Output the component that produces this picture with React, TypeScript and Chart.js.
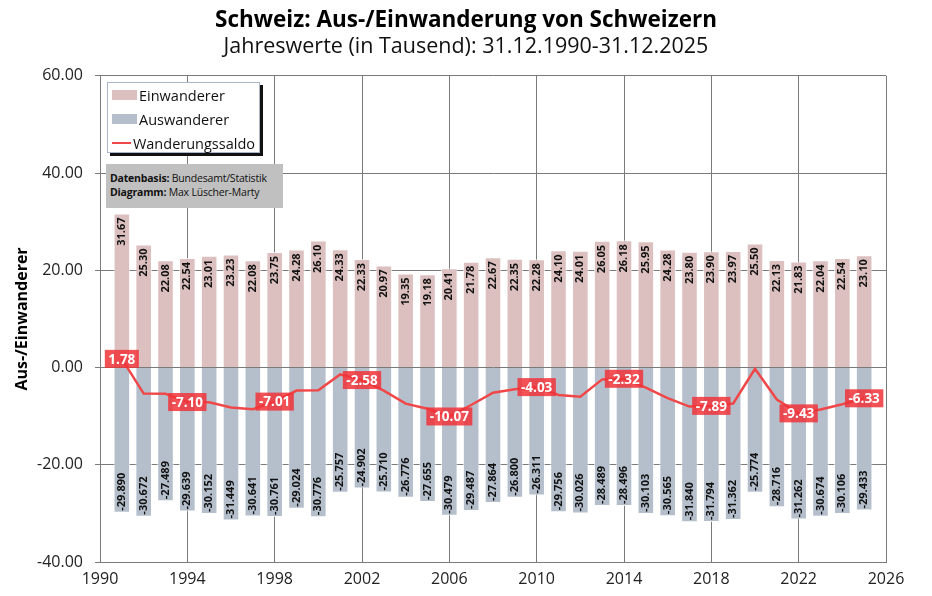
import React, { useEffect, useRef } from "react";
import { Chart, registerables } from "chart.js";

Chart.register(...registerables);

const years = [
  1991, 1992, 1993, 1994, 1995, 1996, 1997, 1998, 1999, 2000,
  2001, 2002, 2003, 2004, 2005, 2006, 2007, 2008, 2009, 2010,
  2011, 2012, 2013, 2014, 2015, 2016, 2017, 2018, 2019, 2020,
  2021, 2022, 2023, 2024, 2025,
];

const einwanderer = [
  31.67, 25.3, 22.08, 22.54, 23.01, 23.23, 22.08, 23.75, 24.28, 26.1,
  24.33, 22.33, 20.97, 19.35, 19.18, 20.41, 21.78, 22.67, 22.35, 22.28,
  24.1, 24.01, 26.05, 26.18, 25.95, 24.28, 23.8, 23.9, 23.97, 25.5,
  22.13, 21.83, 22.04, 22.54, 23.1,
];

const auswanderer = [
  -29.89, -30.672, -27.489, -29.639, -30.152, -31.449, -30.641, -30.761, -29.024, -30.776,
  -25.757, -24.902, -25.71, -26.776, -27.655, -30.479, -29.487, -27.864, -26.8, -26.311,
  -29.756, -30.026, -28.489, -28.496, -30.103, -30.565, -31.84, -31.794, -31.362, -25.774,
  -28.716, -31.262, -30.674, -30.106, -29.433,
];

const saldo = [
  1.78, -5.37, -5.41, -7.1, -7.14, -8.22, -8.56, -7.01, -4.74, -4.68,
  -1.43, -2.58, -4.74, -7.43, -8.48, -10.07, -7.71, -5.19, -4.45, -4.03,
  -5.66, -6.02, -2.44, -2.32, -4.15, -6.29, -8.04, -7.89, -7.39, -0.27,
  -6.59, -9.43, -8.63, -7.57, -6.33,
];

const saldoLabelYears = [1991, 1994, 1998, 2002, 2006, 2010, 2014, 2018, 2022, 2025];

const FONT = "'Open Sans', 'Noto Sans', sans-serif";
const GRID = "#7a7a7a";
const PINK = "#dcc0c0";
const BLUEGRAY = "#b5bfcc";
const RED = "#f04848";

// bar values inside the bars + red boxes on the saldo line
const labelPlugin = {
  id: "valueLabels",
  afterDraw(chart) {
    const ctx = chart.ctx;
    ctx.save();
    ctx.font = `bold 11px ${FONT}`;
    ctx.fillStyle = "#111";
    ctx.textBaseline = "middle";

    chart.getDatasetMeta(0).data.forEach((el, i) => {
      ctx.save();
      ctx.translate(el.x, el.y + 4);
      ctx.rotate(-Math.PI / 2);
      ctx.textAlign = "right";
      ctx.fillText(einwanderer[i].toFixed(2), 0, 0);
      ctx.restore();
    });

    chart.getDatasetMeta(1).data.forEach((el, i) => {
      ctx.save();
      ctx.translate(el.x, el.y - 2);
      ctx.rotate(-Math.PI / 2);
      ctx.textAlign = "left";
      ctx.fillText(auswanderer[i].toFixed(3), 0, 0);
      ctx.restore();
    });

    ctx.font = `bold 13.5px ${FONT}`;
    ctx.textAlign = "center";
    chart.getDatasetMeta(2).data.forEach((el, i) => {
      if (!saldoLabelYears.includes(years[i])) return;
      const txt = saldo[i].toFixed(2);
      const w = ctx.measureText(txt).width + 7;
      const h = 18;
      ctx.fillStyle = "rgba(240, 50, 56, 0.85)";
      ctx.fillRect(el.x - w / 2, el.y - h / 2, w, h);
      ctx.fillStyle = "#fff";
      ctx.fillText(txt, el.x, el.y + 1);
    });
    ctx.restore();
  },
};

export default function App() {
  const canvasRef = useRef<HTMLCanvasElement>(null);

  useEffect(() => {
    document.body.style.margin = "0";
    if (!canvasRef.current) return;

    const chart = new Chart(canvasRef.current, {
      type: "bar",
      data: {
        datasets: [
          {
            label: "Einwanderer",
            data: years.map((x, i) => ({ x, y: einwanderer[i] })),
            backgroundColor: PINK,
            borderColor: "rgba(255,255,255,0.7)",
            borderWidth: 1,
            barPercentage: 0.76,
            categoryPercentage: 1,
            stack: "bars",
            order: 1,
          },
          {
            label: "Auswanderer",
            data: years.map((x, i) => ({ x, y: auswanderer[i] })),
            backgroundColor: BLUEGRAY,
            borderColor: "rgba(255,255,255,0.7)",
            borderWidth: 1,
            barPercentage: 0.76,
            categoryPercentage: 1,
            stack: "bars",
            order: 1,
          },
          {
            type: "line",
            label: "Wanderungssaldo",
            data: years.map((x, i) => ({ x, y: saldo[i] })),
            borderColor: RED,
            borderWidth: 2.5,
            pointRadius: 0,
            tension: 0,
            stack: "saldo",
            order: 0,
          },
        ] as any,
      },
      options: {
        animation: false,
        responsive: true,
        maintainAspectRatio: false,
        layout: { padding: 0 },
        plugins: {
          legend: { display: false },
          tooltip: { enabled: false },
          title: {
            display: true,
            text: "Schweiz: Aus-/Einwanderung von Schweizern",
            color: "#000",
            font: { family: FONT, size: 22.5, weight: "bold", lineHeight: 1.2 },
            padding: { top: 7, bottom: 0 },
          },
          subtitle: {
            display: true,
            text: "Jahreswerte (in Tausend): 31.12.1990-31.12.2025",
            color: "#111",
            font: { family: FONT, size: 21.5, lineHeight: 1.2 },
            padding: { top: 0, bottom: 16 },
          },
        },
        scales: {
          x: {
            type: "linear",
            min: 1990,
            max: 2026,
            stacked: true,
            offset: false,
            z: 1,
            grid: { color: GRID, offset: false, drawTicks: false },
            border: { color: GRID },
            ticks: {
              stepSize: 4,
              padding: 8,
              color: "#222",
              font: { family: FONT, size: 16 },
              callback: (v) => String(v),
            },
            afterFit: (scale) => {
              scale.height = 34;
            },
          },
          y: {
            min: -40,
            max: 60,
            stacked: true,
            z: 1,
            grid: { color: GRID, tickLength: 5 },
            border: { color: GRID },
            ticks: {
              stepSize: 20,
              padding: 12,
              color: "#222",
              font: { family: FONT, size: 16 },
              callback: (v) => Number(v).toFixed(2),
            },
            title: {
              display: true,
              text: "Aus-/Einwanderer",
              color: "#000",
              font: { family: FONT, size: 16, weight: "bold" },
              padding: { top: 13, bottom: 0 },
            },
            afterFit: (scale) => {
              scale.width = 100;
            },
          },
          // empty right-hand axis, only to keep the plot's right edge at the reference position
          spacer: {
            type: "linear",
            position: "right",
            min: -40,
            max: 60,
            grid: { display: false },
            border: { display: false },
            ticks: { display: false },
            afterFit: (scale) => {
              scale.width = 46;
            },
          },
        },
      } as any,
      plugins: [labelPlugin],
    });

    return () => chart.destroy();
  }, []);

  const item = { display: "flex", alignItems: "center", height: 24 } as const;

  return (
    <div style={{ position: "relative", width: 932, height: 596, fontFamily: FONT }}>
      <canvas ref={canvasRef}></canvas>
      <div
        style={{
          position: "absolute",
          left: 107,
          top: 82,
          width: 153,
          height: 71,
          background: "#fff",
          border: "1px solid #a9b6cc",
          boxShadow: "3px 3px 0 #111",
          padding: "0 4px",
          boxSizing: "border-box",
          fontSize: 14.5,
          color: "#111",
        }}
      >
        <div style={item}>
          <span style={{ width: 25, height: 10, background: PINK, marginRight: 2 }} />
          Einwanderer
        </div>
        <div style={item}>
          <span style={{ width: 25, height: 10, background: BLUEGRAY, marginRight: 2 }} />
          Auswanderer
        </div>
        <div style={item}>
          <span style={{ width: 25, height: 2.5, background: RED, marginRight: 2 }} />
          Wanderungssaldo
        </div>
      </div>
      <div
        style={{
          position: "absolute",
          left: 106,
          top: 164,
          width: 177,
          height: 44,
          background: "#c0c0c0",
          padding: "7px 4px",
          boxSizing: "border-box",
          fontSize: 10.5,
          lineHeight: "14px",
          color: "#111",
          whiteSpace: "nowrap",
          letterSpacing: "-0.2px",
        }}
      >
        <div>
          <b>Datenbasis:</b> Bundesamt/Statistik
        </div>
        <div>
          <b>Diagramm:</b> Max Lüscher-Marty
        </div>
      </div>
    </div>
  );
}
